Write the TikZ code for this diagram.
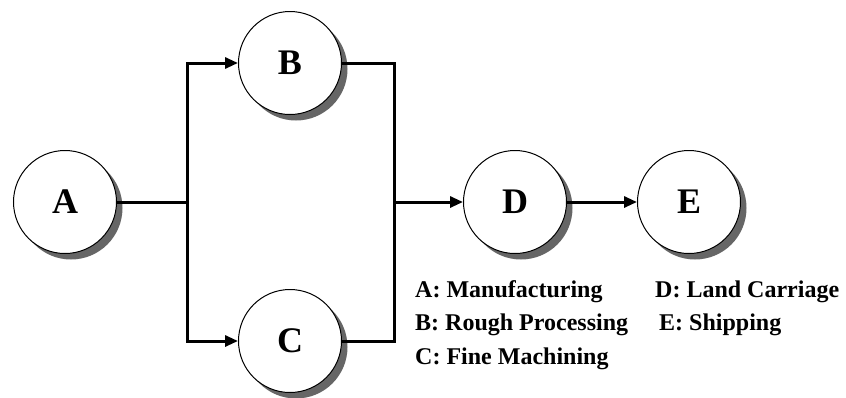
\documentclass[tikz,border=0pt]{standalone}
\usepackage{fontspec}
\setmainfont{Liberation Serif}
\usetikzlibrary{shadows,arrows.meta}
\tikzset{
  stage/.style={circle, draw, line width=1pt, fill=white, minimum size=103pt, inner sep=0pt,
    font=\fontsize{36}{40}\selectfont\bfseries,
    drop shadow={shadow xshift=6pt, shadow yshift=-6pt, fill=black!60, opacity=1}},
  link/.style={line width=3pt},
  flow/.style={link, -{Triangle[length=13pt,width=11pt]}},
  legend/.style={anchor=base west, inner sep=0pt, font=\fontsize{24}{28}\selectfont\bfseries}
}
\begin{document}
\begin{tikzpicture}[x=1pt, y=-1pt]
  \useasboundingbox (0,0) rectangle (846,397);
  % --- stages ---
  \node[stage] (A) at (65,202)  {A};
  \node[stage] (B) at (290,63)  {B};
  \node[stage] (C) at (290,341) {C};
  \node[stage] (D) at (515,202) {D};
  \node[stage] (E) at (689,202) {E};
  % --- branch points ---
  \coordinate (split) at (187,202);
  \coordinate (merge) at (394,202);
  % --- connectors ---
  \draw[link] (A) -- (split);
  \draw[flow] (split) |- (B);
  \draw[flow] (split) |- (C);
  \draw[link] (B) -| (merge);
  \draw[link] (C) -| (merge);
  \draw[flow] (merge) -- (D);
  \draw[flow] (D) -- (E);
  % --- legend ---
  \node[legend] (lA) at (415,297) {A: Manufacturing};
  \node[legend] (lB) at (415,330) {B: Rough Processing};
  \node[legend] (lC) at (415,364) {C: Fine Machining};
  \node[legend] (lD) at (655,297) {D: Land Carriage};
  \node[legend] (lE) at (659,330) {E: Shipping};
\end{tikzpicture}
\end{document}
